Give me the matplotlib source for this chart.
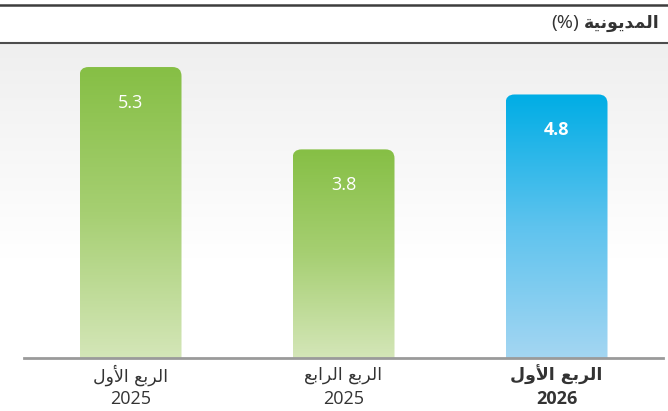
import numpy as np
import matplotlib
matplotlib.use("Agg")
import matplotlib.pyplot as plt
from matplotlib.patches import FancyBboxPatch
from matplotlib.lines import Line2D
from matplotlib.colors import LinearSegmentedColormap

# ---- data ----
quarters = ["الربع الأول", "الربع الرابع", "الربع الأول"]
years = ["2025", "2025", "2026"]
values = [5.3, 3.8, 4.8]
value_labels = ["5.3", "3.8", "4.8"]
highlight = [False, False, True]
title = "المديونية"
title_unit = "(%)"

# ---- simple Arabic shaping for display (matplotlib has no bidi/shaping) ----
FORMS = {
    'ا': ('\uFE8D', '\uFE8E', None, None),
    'أ': ('\uFE83', '\uFE84', None, None),
    'ل': ('\uFEDD', '\uFEDE', '\uFEDF', '\uFEE0'),
    'م': ('\uFEE1', '\uFEE2', '\uFEE3', '\uFEE4'),
    'د': ('\uFEA9', '\uFEAA', None, None),
    'ي': ('\uFEF1', '\uFEF2', '\uFEF3', '\uFEF4'),
    'و': ('\uFEED', '\uFEEE', None, None),
    'ن': ('\uFEE5', '\uFEE6', '\uFEE7', '\uFEE8'),
    'ة': ('\uFE93', '\uFE94', None, None),
    'ر': ('\uFEAD', '\uFEAE', None, None),
    'ب': ('\uFE8F', '\uFE90', '\uFE91', '\uFE92'),
    'ع': ('\uFEC9', '\uFECA', '\uFECB', '\uFECC'),
}
LAMALEF = {'ا': ('\uFEFB', '\uFEFC'), 'أ': ('\uFEF7', '\uFEF8')}
MIRROR = {'(': ')', ')': '('}


def dual(c):
    return c in FORMS and FORMS[c][2] is not None


def shape(text):
    out = []
    chars = list(text)
    i = 0
    n = len(chars)
    while i < n:
        c = chars[i]
        prev = chars[i - 1] if i > 0 else None
        joins_prev = prev is not None and dual(prev)
        if c == 'ل' and i + 1 < n and chars[i + 1] in LAMALEF:
            iso, fin = LAMALEF[chars[i + 1]]
            out.append(fin if joins_prev else iso)
            i += 2
            continue
        if c in FORMS:
            nxt = chars[i + 1] if i + 1 < n else None
            joins_next = dual(c) and nxt is not None and nxt in FORMS
            iso, fin, ini, med = FORMS[c]
            if joins_prev and joins_next:
                out.append(med)
            elif joins_prev:
                out.append(fin)
            elif joins_next:
                out.append(ini)
            else:
                out.append(iso)
        else:
            out.append(c)
        i += 1
    return ''.join(MIRROR.get(ch, ch) for ch in reversed(out))


# ---- figure ----
W, H = 668, 411
fig = plt.figure(figsize=(W / 100, H / 100), dpi=100)
fig.patch.set_facecolor("white")

base_px = 358
top_px = 44
left_px, right_px = 24, 663

# full-width background gradient
bgax = fig.add_axes([0, (H - base_px) / H, 1, (base_px - top_px) / H], zorder=0)
bgax.set_axis_off()
bg = LinearSegmentedColormap.from_list(
    "bg", [(0, "#ffffff"), (0.32, "#ffffff"), (1.0, "#efefef")])
grad = np.linspace(0, 1, 256).reshape(-1, 1)
bgax.imshow(grad, extent=[0, 1, 0, 1], origin="lower", aspect="auto", cmap=bg)
bgax.set_xlim(0, 1)
bgax.set_ylim(0, 1)

ax = fig.add_axes([left_px / W, (H - base_px) / H,
                   (right_px - left_px) / W, (base_px - top_px) / H], zorder=1)
ppu = 54.9
ymax = (base_px - top_px) / ppu
ax.set_xlim(-0.5, 2.5)
ax.set_ylim(0, ymax)
ax.patch.set_alpha(0)
for s in ["top", "right", "left"]:
    ax.spines[s].set_visible(False)
ax.spines["bottom"].set_color("#9a9a9a")
ax.spines["bottom"].set_linewidth(2)
ax.spines["bottom"].set_zorder(10)
ax.set_xticks([])
ax.set_yticks([])

green = LinearSegmentedColormap.from_list("g", ["#d4e6b8", "#a6cf72", "#86bf45"])
blue = LinearSegmentedColormap.from_list("b", ["#a4d6f2", "#5ec3ee", "#00ade5"])

px_per_x = (right_px - left_px) / 3.0
bw = 102 / px_per_x
r_px = 9
r = r_px / px_per_x
aspect = (1 / ppu) / (1 / px_per_x)

for i, v in enumerate(values):
    x0 = i - bw / 2
    patch = FancyBboxPatch((x0, -0.5), bw, v + 0.5,
                           boxstyle=f"round,pad=0,rounding_size={r}",
                           mutation_aspect=aspect, facecolor="none",
                           edgecolor="none", transform=ax.transData)
    ax.add_patch(patch)
    cm = blue if highlight[i] else green
    im = ax.imshow(grad, extent=[x0, x0 + bw, 0, v], origin="lower",
                   aspect="auto", cmap=cm, zorder=2)
    im.set_clip_path(patch)
    ax.text(i, v - 36 / ppu, value_labels[i], ha="center", va="center",
            color="white", fontsize=13, family=["Open Sans", "DejaVu Sans"],
            fontweight="bold" if highlight[i] else "normal", zorder=5)

# x labels
for i in range(len(values)):
    wt = "bold" if highlight[i] else "normal"
    ax.text(i, -17 / ppu, shape(quarters[i]), ha="center", va="center",
            fontsize=12.5, color="#333333", family=["DejaVu Sans"],
            fontweight=wt, clip_on=False)
    ax.text(i, -41 / ppu, years[i], ha="center", va="center",
            fontsize=13, color="#333333", family=["Open Sans", "DejaVu Sans"],
            fontweight=wt, clip_on=False)

# header lines and title
fig.add_artist(Line2D([0, 1], [1 - 5 / H, 1 - 5 / H], color="#3d3d3d",
                      linewidth=1.8, transform=fig.transFigure))
fig.add_artist(Line2D([0, 1], [1 - 43.5 / H, 1 - 43.5 / H], color="#4d4d4d",
                      linewidth=1.5, transform=fig.transFigure))
t1 = fig.text(660 / W, 1 - 28 / H, shape(title), ha="right", va="baseline",
              fontsize=12.5, color="#333333", family=["DejaVu Sans"],
              fontweight="bold")
fig.canvas.draw()
bb = t1.get_window_extent()
fig.text((bb.x0 - 5) / W, 1 - 28 / H, title_unit, ha="right", va="baseline",
         fontsize=14, color="#333333", family=["Open Sans", "DejaVu Sans"])

fig.savefig("out.png", dpi=100)
